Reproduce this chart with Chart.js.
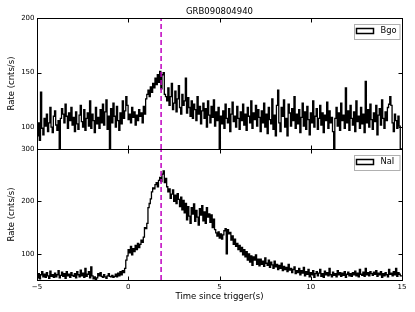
<!DOCTYPE html>
<html><head><meta charset="utf-8">
<script src="https://cdn.jsdelivr.net/npm/chart.js@4.4.1/dist/chart.umd.min.js"></script>
<style>html,body{margin:0;padding:0;background:#fff}#wrap{width:415px;height:312px;position:relative}</style>
</head><body><div id="wrap"><canvas id="c" width="415" height="312"></canvas></div>
<script>
const chartTitle = 'GRB090804940';
const xLabel = 'Time since trigger(s)';
const yLabel = 'Rate (cnts/s)';
const binStart = -5;
const binWidth = 0.064;
const triggerTime = 1.8;
const xTicks = [-5, 0, 5, 10, 15];
const bgoTicks = [100, 150, 200];
const naiTicks = [100, 200, 300];
const bgoRange = [80, 200];
const naiRange = [50, 300];
const xRange = [-5, 15];
const legendNames = ['Bgo', 'NaI'];

const bgoRate = [
  98, 92, 104, 88, 132, 99, 93, 108, 101, 112, 96, 104, 118, 100, 95, 110,
  115, 102, 97, 106, 80, 108, 117, 112, 104, 121, 110, 99, 113, 106, 118, 102,
  109, 96, 114, 103, 98, 111, 120, 105, 100, 116, 97, 108, 113, 101, 124, 99,
  112, 106, 95, 118, 103, 109, 99, 116, 104, 121, 102, 114, 125, 98, 110, 80,
  117, 104, 122, 110, 100, 119, 106, 97, 113, 103, 124, 108, 115, 128, 120, 107,
  112, 104, 118, 109, 114, 102, 111, 106, 116, 110, 113, 104, 119, 112, 126, 130,
  134, 128, 137, 132, 140, 136, 145, 139, 148, 141, 151, 135, 148, 150, 130, 128,
  124, 136, 120, 128, 140, 116, 122, 133, 114, 126, 138, 118, 112, 130, 120, 124,
  145, 113, 127, 118, 110, 124, 108, 121, 116, 106, 128, 112, 119, 103, 115, 122,
  108, 117, 100, 124, 111, 104, 119, 109, 125, 101, 114, 106, 118, 80, 110, 103,
  115, 99, 121, 108, 104, 117, 96, 112, 123, 105, 110, 100, 119, 108, 98, 114,
  106, 121, 102, 112, 97, 118, 110, 104, 124, 99, 113, 107, 120, 101, 116, 109,
  96, 115, 104, 122, 100, 112, 94, 118, 107, 103, 126, 98, 111, 92, 120, 134,
  104, 96, 118, 110, 125, 100, 108, 92, 121, 113, 101, 117, 106, 128, 99, 112,
  103, 116, 95, 109, 122, 101, 114, 98, 119, 107, 93, 113, 104, 124, 100, 110,
  117, 98, 108, 120, 102, 113, 95, 111, 106, 123, 99, 115, 104, 109, 96, 80,
  108, 118, 101, 113, 97, 122, 106, 111, 99, 136, 104, 115, 97, 120, 108, 102,
  114, 96, 124, 105, 110, 99, 118, 103, 112, 95, 142, 104, 116, 100, 121, 107,
  98, 113, 105, 120, 93, 111, 117, 102, 125, 108, 99, 114, 106, 118, 121, 128,
  120, 104, 96, 112, 106, 99, 110, 101, 80
];

const naiRate = [
  58, 54, 62, 52, 60, 66, 56, 61, 55, 64, 58, 53, 67, 57, 60, 55,
  63, 56, 60, 68, 54, 59, 65, 57, 62, 53, 66, 58, 61, 55, 64, 59,
  57, 62, 54, 66, 60, 56, 69, 58, 63, 55, 72, 57, 61, 66, 54, 75,
  58, 52, 56, 50, 54, 62, 58, 64, 57, 55, 60, 56, 53, 58, 62, 57,
  56, 59, 55, 57, 61, 56, 63, 58, 66, 60, 68, 64, 72, 88, 96, 108,
  102, 114, 98, 110, 104, 116, 108, 120, 112, 118, 126, 122, 132, 150, 148, 158,
  188, 196, 205, 218, 226, 224, 232, 236, 228, 240, 246, 238, 252, 258, 236, 244,
  228, 218, 224, 206, 214, 222, 200, 212, 196, 215, 204, 190, 208, 184, 202, 178,
  196, 165, 190, 172, 158, 188, 176, 195, 162, 183, 170, 155, 186, 174, 192, 163,
  180, 158, 188, 170, 176, 160, 174, 150, 166, 146, 140, 134, 142, 130, 138, 128,
  136, 144, 148, 100, 146, 138, 141, 126, 134, 118, 128, 114, 120, 108, 116, 104,
  112, 98, 108, 94, 104, 88, 100, 84, 96, 78, 94, 88, 98, 80, 90, 77,
  90, 80, 86, 76, 92, 82, 78, 88, 74, 84, 79, 72, 86, 75, 80, 70,
  78, 72, 82, 68, 76, 70, 74, 66, 80, 69, 72, 64, 70, 75, 62, 68,
  64, 72, 60, 68, 63, 74, 58, 66, 61, 70, 56, 64, 60, 68, 55, 62,
  66, 58, 63, 70, 57, 62, 55, 67, 60, 64, 58, 72, 60, 56, 65, 59,
  62, 56, 68, 60, 64, 57, 63, 59, 66, 55, 61, 65, 58, 62, 57, 64,
  60, 67, 58, 63, 56, 70, 61, 59, 65, 57, 72, 60, 64, 58, 66, 62,
  59, 65, 61, 68, 57, 63, 60, 66, 55, 62, 58, 64, 60, 56, 70, 61,
  63, 58, 66, 60, 72, 57, 64, 61, 58
];

function stepPoints(values) {
  const pts = values.map((v, i) => ({ x: binStart + i * binWidth, y: v }));
  pts.push({ x: binStart + values.length * binWidth, y: values[values.length - 1] });
  return pts;
}

Chart.defaults.font.family = "'DejaVu Sans', sans-serif";
Chart.defaults.color = '#000';

const FONT = "'DejaVu Sans', sans-serif";

const panelPlugin = {
  id: 'panels',
  afterDraw(chart) {
    const ctx = chart.ctx;
    const ca = chart.chartArea;
    const xs = chart.scales.x;
    const panels = [
      { s: chart.scales.yTop, ticks: bgoTicks, name: legendNames[0] },
      { s: chart.scales.yBot, ticks: naiTicks, name: legendNames[1] }
    ];
    ctx.save();
    ctx.fillStyle = '#000';
    ctx.font = '8.5px ' + FONT;
    ctx.textAlign = 'center';
    ctx.textBaseline = 'middle';
    ctx.fillText(chartTitle, (ca.left + ca.right) / 2, 12);
    const L = Math.round(ca.left) + 0.5, R = Math.round(ca.right) + 0.5;
    panels.forEach(p => {
      const T = Math.round(p.s.top) + 0.5, B = Math.round(p.s.bottom) + 0.5;
      ctx.strokeStyle = '#000';
      ctx.lineWidth = 1;
      ctx.strokeRect(L, T, R - L, B - T);
      ctx.beginPath();
      xTicks.forEach(v => {
        const px = Math.round(xs.getPixelForValue(v)) + 0.5;
        ctx.moveTo(px, T); ctx.lineTo(px, T + 4);
        ctx.moveTo(px, B); ctx.lineTo(px, B - 4);
      });
      p.ticks.forEach(v => {
        const py = Math.round(p.s.getPixelForValue(v)) + 0.5;
        ctx.moveTo(L, py); ctx.lineTo(L + 4, py);
        ctx.moveTo(R, py); ctx.lineTo(R - 4, py);
      });
      ctx.stroke();
      const lx = R - 49, ly = T + 5, lw = 45.5, lh = 15;
      ctx.fillStyle = '#fff';
      ctx.fillRect(lx, ly, lw, lh);
      ctx.strokeStyle = '#b0b0b0';
      ctx.lineWidth = 1;
      ctx.strokeRect(Math.round(lx) + 0.5, Math.round(ly) + 0.5, lw, lh);
      ctx.strokeStyle = '#000';
      ctx.lineWidth = 1.5;
      ctx.strokeRect(lx + 3, ly + 5, 17, 5);
      ctx.fillStyle = '#000';
      ctx.font = '8.3px ' + FONT;
      ctx.textAlign = 'left';
      ctx.textBaseline = 'middle';
      ctx.fillText(p.name, lx + 27, ly + 7.8);
    });
    ctx.restore();
  }
};

const lineStyle = { borderColor: '#000', borderWidth: 1.3, pointRadius: 0, stepped: 'after', fill: false, tension: 0 };
const dashStyle = { borderColor: '#bf00bf', borderWidth: 1.5, borderDash: [5, 3], pointRadius: 0, fill: false };

new Chart(document.getElementById('c'), {
  type: 'line',
  data: {
    datasets: [
      Object.assign({ label: 'trigTop', data: [{ x: triggerTime, y: bgoRange[0] }, { x: triggerTime, y: bgoRange[1] }], yAxisID: 'yTop', order: 0 }, dashStyle),
      Object.assign({ label: 'trigBot', data: [{ x: triggerTime, y: naiRange[0] }, { x: triggerTime, y: naiRange[1] }], yAxisID: 'yBot', order: 0 }, dashStyle),
      Object.assign({ label: legendNames[0], data: stepPoints(bgoRate), yAxisID: 'yTop', order: 1 }, lineStyle),
      Object.assign({ label: legendNames[1], data: stepPoints(naiRate), yAxisID: 'yBot', order: 1 }, lineStyle)
    ]
  },
  options: {
    responsive: false,
    animation: false,
    devicePixelRatio: 1,
    layout: { padding: { top: 18, right: 13, left: 0, bottom: 0 } },
    plugins: { legend: { display: false }, tooltip: { enabled: false }, title: { display: false } },
    scales: {
      x: {
        type: 'linear', min: xRange[0], max: xRange[1],
        afterBuildTicks: s => { s.ticks = xTicks.map(v => ({ value: v })); },
        afterFit: s => { s.height = 32; },
        grid: { display: false, drawTicks: false },
        border: { display: false },
        ticks: { font: { size: 7 }, padding: 2.5, maxRotation: 0, callback: v => (v < 0 ? '\u2212' + Math.abs(v) : String(v)) },
        title: { display: true, text: xLabel, font: { size: 8.5 }, padding: { top: 0, bottom: 10.2 } }
      },
      yBot: {
        type: 'linear', position: 'left', stack: 'panels', stackWeight: 1,
        min: naiRange[0], max: naiRange[1],
        afterBuildTicks: s => { s.ticks = naiTicks.map(v => ({ value: v })); },
        afterFit: s => { s.width = 37; },
        grid: { display: false, drawTicks: false },
        border: { display: false },
        ticks: { font: { size: 7 }, padding: 2.5 },
        title: { display: true, text: yLabel, font: { size: 8.5 }, padding: { top: 6.6, bottom: 0 } }
      },
      yTop: {
        type: 'linear', position: 'left', stack: 'panels', stackWeight: 1,
        min: bgoRange[0], max: bgoRange[1],
        afterBuildTicks: s => { s.ticks = bgoTicks.map(v => ({ value: v })); },
        afterFit: s => { s.width = 37; },
        grid: { display: false, drawTicks: false },
        border: { display: false },
        ticks: { font: { size: 7 }, padding: 2.5 },
        title: { display: true, text: yLabel, font: { size: 8.5 }, padding: { top: 6.6, bottom: 0 } }
      }
    }
  },
  plugins: [panelPlugin]
});
</script>
</body></html>
